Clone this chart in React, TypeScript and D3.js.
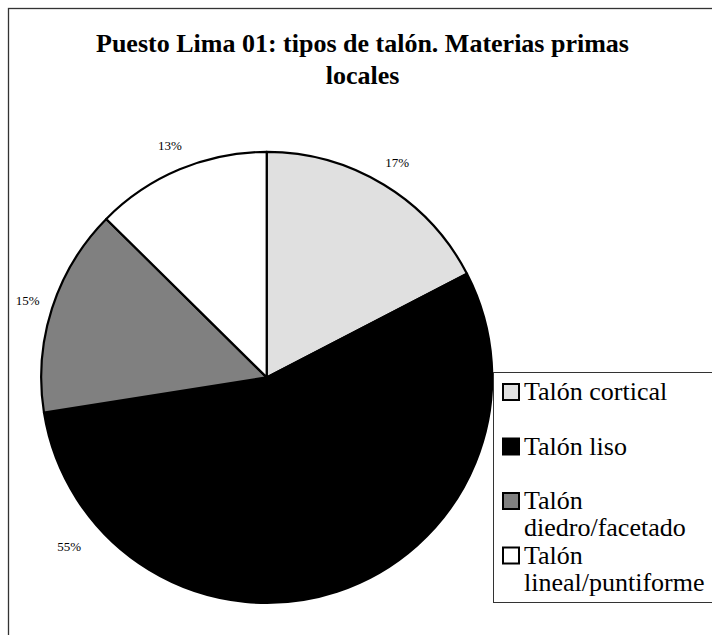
import React from "react";
import * as d3 from "d3";

const titleLines = ["Puesto Lima 01: tipos de talón. Materias primas", "locales"];
const categories = ["Talón cortical", "Talón liso", "Talón diedro/facetado", "Talón lineal/puntiforme"];
const legendLines = [["Talón cortical"], ["Talón liso"], ["Talón", "diedro/facetado"], ["Talón", "lineal/puntiforme"]];
const values = [17.4, 55.1, 14.9, 12.6];
const percentLabels = ["17%", "55%", "15%", "13%"];
const colors = ["#e0e0e0", "#000000", "#808080", "#ffffff"];

const FONT = "'Liberation Serif', 'Times New Roman', serif";

export default function App() {
  const W = 712;
  const H = 635;
  const cx = 266.7;
  const cy = 377.4;
  const r = 225.5;

  const pie = d3.pie<number>().sort(null).value((d) => d).startAngle(0).endAngle(2 * Math.PI);
  const arcs = pie(values);
  const arc = d3.arc<d3.PieArcDatum<number>>().innerRadius(0).outerRadius(r);

  const labelPos = (a: d3.PieArcDatum<number>, i: number) => {
    let ang = (a.startAngle + a.endAngle) / 2;
    let rad = 251;
    if (i === 1) {
      // Large slice label moved by the original chart to the lower left
      ang = (229.4 * Math.PI) / 180;
      rad = 260;
    }
    return [cx + rad * Math.sin(ang), cy - rad * Math.cos(ang)];
  };

  const legendX = 493.5;
  const legendTop = 372.5;
  const legendBottom = 602.5;
  const rowY = d3.scaleLinear().domain([0, 1]).range([384, 438.5]);

  return (
    <svg
      width={W}
      height={H}
      style={{ position: "absolute", left: 0, top: 0, background: "#fff" }}
      fontFamily={FONT}
    >
      <rect x={0} y={0} width={W} height={H} fill="#fff" />
      <rect x={8.5} y={8.5} width={W} height={H} fill="#fff" stroke="#333" strokeWidth={1.3} />
      {titleLines.map((t, i) => (
        <text
          key={i}
          x={362.5}
          y={51.7 + i * 32.6}
          textAnchor="middle"
          fontWeight="bold"
          fontSize={26}
          fill="#000"
        >
          {t}
        </text>
      ))}
      <g transform={`translate(${cx},${cy})`}>
        {arcs.map((a, i) => (
          <path key={i} d={arc(a) || ""} fill={colors[i]} stroke="#000" strokeWidth={2.2} strokeLinejoin="round" />
        ))}
      </g>
      {arcs.map((a, i) => {
        const [x, y] = labelPos(a, i);
        return (
          <text key={i} x={x} y={y + 4.5} textAnchor="middle" fontSize={13} fill="#000">
            {percentLabels[i]}
          </text>
        );
      })}
      <rect
        x={legendX}
        y={legendTop}
        width={W}
        height={legendBottom - legendTop}
        fill="#fff"
        stroke="#333"
        strokeWidth={1}
      />
      {categories.map((c, i) => {
        const y = rowY(i);
        return (
          <g key={c}>
            <rect x={503} y={y} width={16} height={16} fill={colors[i]} stroke="#000" strokeWidth={2} />
            {legendLines[i].map((ln, j) => (
              <text key={j} x={524} y={y + 16 + j * 27} fontSize={26} fill="#000">
                {ln}
              </text>
            ))}
          </g>
        );
      })}
    </svg>
  );
}
